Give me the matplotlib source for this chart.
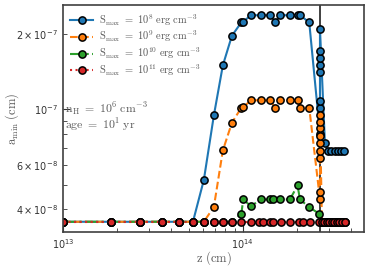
import matplotlib
matplotlib.use("Agg")
import matplotlib.pyplot as plt
from matplotlib.ticker import NullFormatter

plt.rcParams['mathtext.fontset'] = 'cm'

# shared pieces of the z grid (cm)
z_base = [1.0e13, 1.85e13, 2.68e13, 3.54e13, 4.41e13, 5.28e13, 6.07e13, 6.90e13, 7.74e13, 8.69e13]
z_mid = [9.81e13, 1.004e14, 1.108e14, 1.259e14, 1.422e14, 1.506e14, 1.616e14, 1.824e14, 2.013e14, 2.074e14, 2.336e14]
z_front = 2.68e14
z_tail = [2.748e14, 2.837e14, 2.928e14, 3.024e14, 3.122e14, 3.224e14, 3.328e14, 3.437e14, 3.548e14, 3.687e14]
a_floor = 3.55e-8

# S_max = 1e8
z_s8 = z_base + z_mid + [z_front] * 8 + [2.855e14, 2.978e14, 3.102e14, 3.231e14, 3.367e14, 3.503e14, 3.639e14]
a_s8 = ([a_floor] * 6 + [5.22e-8, 9.46e-8, 1.50e-7, 1.97e-7]
        + [2.23e-7, 2.24e-7, 2.38e-7, 2.38e-7, 2.38e-7, 2.23e-7, 2.38e-7, 2.38e-7, 2.38e-7, 2.38e-7, 2.23e-7]
        + [8.0e-8, 1.016e-7, 1.08e-7, 1.41e-7, 1.51e-7, 1.61e-7, 1.71e-7, 2.09e-7]
        + [7.32e-8] + [6.8e-8] * 6)

# S_max = 1e9
z_s9 = z_base + z_mid + [z_front] * 9 + z_tail
a_s9 = ([a_floor] * 7 + [4.07e-8, 6.85e-8, 8.84e-8]
        + [1.016e-7, 1.02e-7, 1.087e-7, 1.087e-7, 1.087e-7, 1.016e-7, 1.087e-7, 1.087e-7, 1.087e-7, 1.016e-7, 1.016e-7]
        + [4.36e-8, 4.66e-8, 6.4e-8, 6.83e-8, 7.32e-8, 7.8e-8, 8.39e-8, 8.89e-8, 9.46e-8]
        + [a_floor] * 10)

# S_max = 1e10
z_s10 = z_base + [9.81e13, 1.004e14, 1.108e14, 1.259e14, 1.422e14, 1.473e14, 1.616e14, 1.824e14,
                  2.013e14, 2.074e14, 2.336e14, 2.643e14, z_front] + z_tail
a_s10 = ([a_floor] * 10
         + [3.83e-8, 4.36e-8, 4.1e-8, 4.36e-8, 4.36e-8, 4.36e-8, 4.36e-8, 4.36e-8, 4.96e-8, 4.36e-8, 4.06e-8, 3.83e-8, a_floor]
         + [a_floor] * 10)

# S_max = 1e11
z_s11 = z_base + [9.81e13, 1.108e14, 1.227e14, 1.292e14, 1.422e14, 1.473e14, 1.636e14, 1.824e14,
                  2.047e14, 2.154e14, 2.356e14, 2.643e14] + z_tail
a_s11 = [a_floor] * len(z_s11)

series = [
    (z_s8, a_s8, '#1f77b4', '-', r'$\mathrm{S_{max}\ =\ 10^{8}\ erg\ cm^{-3}}$'),
    (z_s9, a_s9, '#ff7f0e', '--', r'$\mathrm{S_{max}\ =\ 10^{9}\ erg\ cm^{-3}}$'),
    (z_s10, a_s10, '#2ca02c', '-.', r'$\mathrm{S_{max}\ =\ 10^{10}\ erg\ cm^{-3}}$'),
    (z_s11, a_s11, '#d62728', ':', r'$\mathrm{S_{max}\ =\ 10^{11}\ erg\ cm^{-3}}$'),
]

fig = plt.figure(figsize=(3.74, 2.67), dpi=100)
ax = fig.add_axes([0.168, 0.131, 0.805, 0.851])

for z, a, col, ls, lab in series:
    ax.plot(z, a, color=col, ls=ls, lw=1.5, marker='o', ms=5.2,
            mec='black', mew=1.1, label=lab)

ax.axvline(z_front, color='0.25', lw=1.4, zorder=1.5)

ax.set_xscale('log')
ax.set_yscale('log')
ax.set_xlim(1e13, 4.7e14)
ax.set_ylim(3.23e-8, 2.62e-7)
ax.xaxis.set_minor_formatter(NullFormatter())

ax.tick_params(which='both', direction='in', top=False, right=False, labelsize=7, colors='0.2')
ax.tick_params(which='major', length=5)
ax.tick_params(which='minor', length=3)
for s in ax.spines.values():
    s.set_color('0.25')
    s.set_linewidth(1.2)

ax.set_xlabel(r'$\mathrm{z\ (cm)}$', fontsize=9, color='0.35')
ax.set_ylabel(r'$\mathrm{a_{min}\ (cm)}$', fontsize=9, color='0.35')
ax.xaxis.set_label_coords(0.5, -0.075)
ax.yaxis.set_label_coords(-0.14, 0.5)

ax.text(0.008, 0.54, r'$\mathrm{n_H\ =\ 10^{6}\ cm^{-3}}$', transform=ax.transAxes,
        fontsize=8.5, color='0.35', va='center')
ax.text(0.008, 0.47, r'$\mathrm{age\ =\ 10^{1}\ yr}$', transform=ax.transAxes,
        fontsize=8.5, color='0.35', va='center')

leg = ax.legend(loc='upper left', frameon=False, fontsize=7.5, handlelength=2.2,
                borderaxespad=0.3, labelspacing=0.1, handletextpad=0.6)
for t in leg.get_texts():
    t.set_color('0.35')

fig.savefig('out.png', dpi=100)
